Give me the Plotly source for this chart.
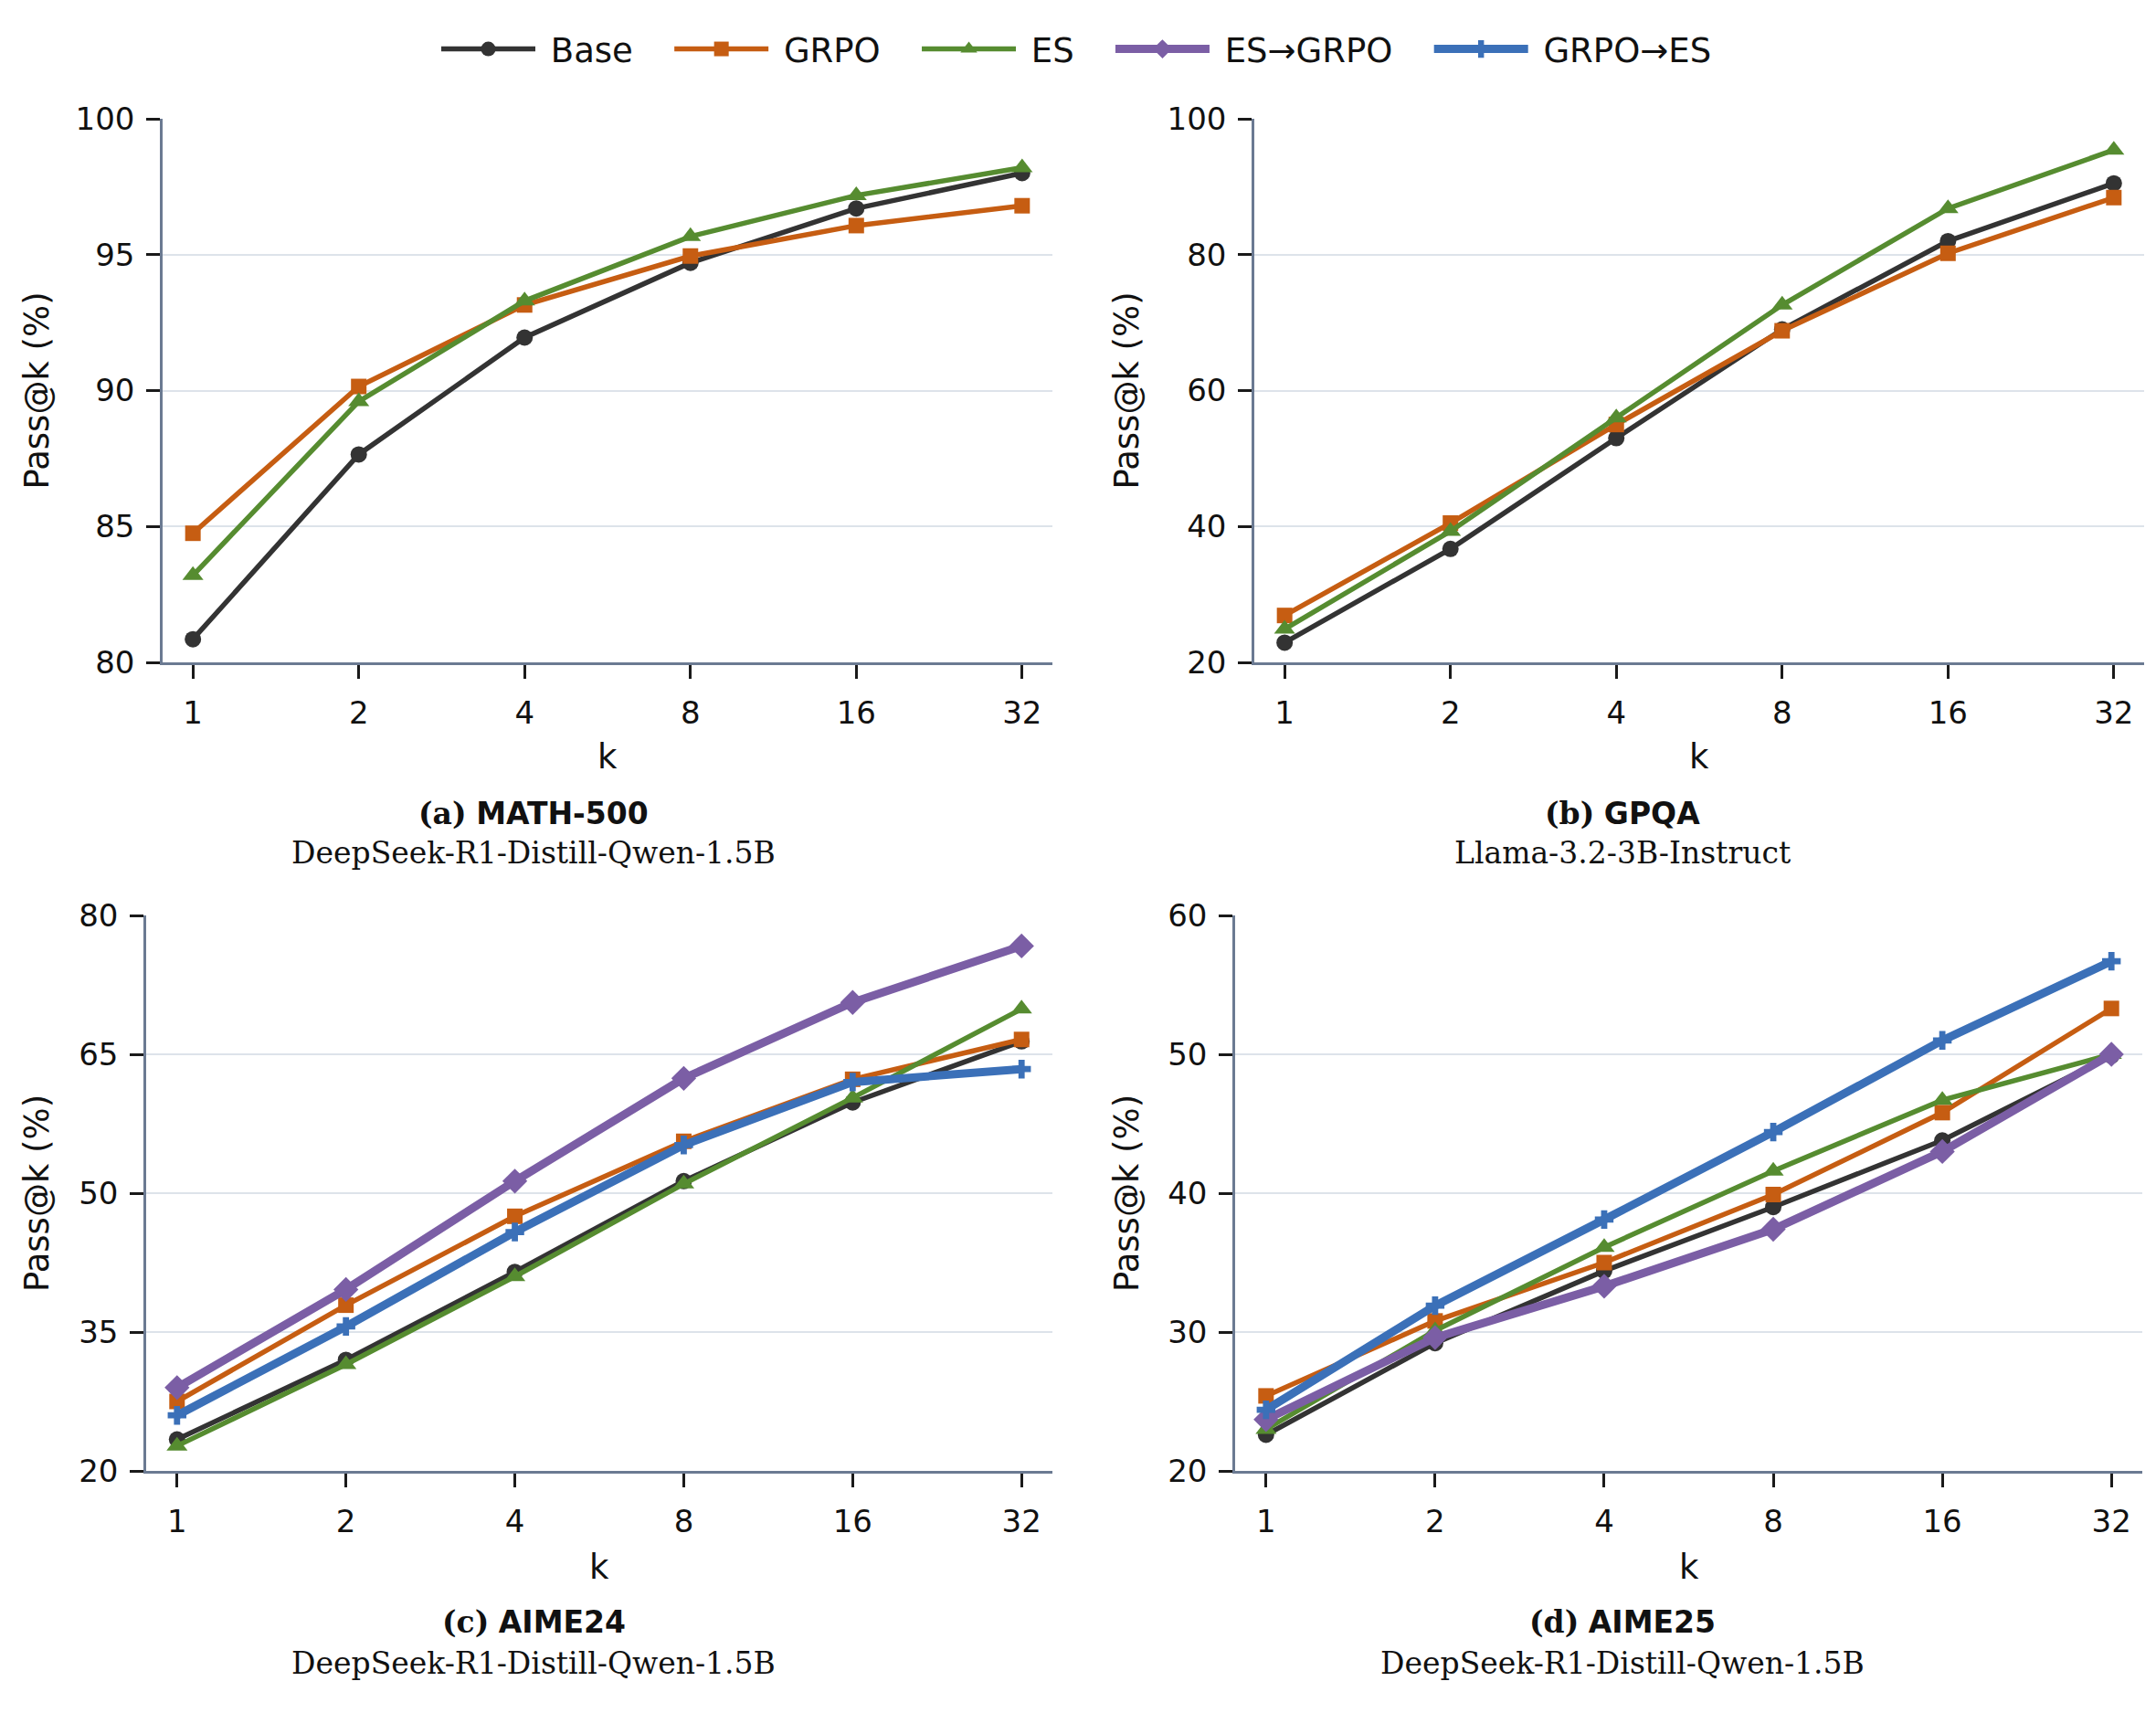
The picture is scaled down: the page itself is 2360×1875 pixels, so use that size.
import math
import plotly.graph_objects as go

# ---------------- data ----------------
k_values = [1, 2, 4, 8, 16, 32]
k_labels = ["1", "2", "4", "8", "16", "32"]

# (a) MATH-500
math_base = [80.85, 87.65, 91.95, 94.7, 96.7, 98.0]
math_grpo = [84.75, 90.15, 93.15, 94.95, 96.07, 96.8]
math_es = [83.2, 89.6, 93.3, 95.67, 97.18, 98.2]

# (b) GPQA
gpqa_base = [22.9, 36.7, 53.0, 69.0, 82.0, 90.5]
gpqa_grpo = [26.9, 40.5, 55.0, 68.8, 80.2, 88.4]
gpqa_es = [24.9, 39.3, 56.0, 72.6, 86.8, 95.4]

# (c) AIME24
aime24_base = [23.4, 32.0, 41.5, 51.3, 59.8, 66.4]
aime24_grpo = [27.5, 37.9, 47.5, 55.6, 62.3, 66.6]
aime24_es = [22.7, 31.5, 41.0, 51.0, 60.3, 69.9]
aime24_es_grpo = [29.0, 39.6, 51.3, 62.4, 70.6, 76.7]
aime24_grpo_es = [26.0, 35.6, 45.8, 55.2, 62.0, 63.4]

# (d) AIME25
aime25_base = [22.6, 29.2, 34.4, 39.0, 43.8, 49.9]
aime25_grpo = [25.4, 30.8, 35.0, 39.9, 45.8, 53.3]
aime25_es = [23.0, 30.1, 36.1, 41.6, 46.7, 50.0]
aime25_es_grpo = [23.7, 29.6, 33.3, 37.4, 43.0, 50.0]
aime25_grpo_es = [24.4, 31.9, 38.1, 44.4, 51.0, 56.7]

series_names = ["Base", "GRPO", "ES", "ES→GRPO", "GRPO→ES"]

panel_titles = ["MATH-500", "GPQA", "AIME24", "AIME25"]
panel_letters = ["(a)", "(b)", "(c)", "(d)"]
panel_models = ["DeepSeek-R1-Distill-Qwen-1.5B", "Llama-3.2-3B-Instruct",
                "DeepSeek-R1-Distill-Qwen-1.5B", "DeepSeek-R1-Distill-Qwen-1.5B"]

y_ranges = [[80, 100], [20, 100], [20, 80], [20, 60]]
y_ticks = [[80, 85, 90, 95, 100], [20, 40, 60, 80, 100],
           [20, 35, 50, 65, 80], [20, 30, 40, 50, 60]]

panel_data = [
    [math_base, math_grpo, math_es, None, None],
    [gpqa_base, gpqa_grpo, gpqa_es, None, None],
    [aime24_base, aime24_grpo, aime24_es, aime24_es_grpo, aime24_grpo_es],
    [aime25_base, aime25_grpo, aime25_es, aime25_es_grpo, aime25_grpo_es],
]

# ---------------- styles ----------------
W, H = 2360, 1875
colors = ["#333333", "#c65d12", "#568c30", "#7b5ea5", "#3b70b8"]
symbols = ["circle", "square", "triangle-up", "diamond", "cross"]
msizes = [18, 17, 20, 21, 17]
lwidths = [5.5, 5.5, 5.5, 9, 9]

# panel pixel boxes: (x0, x1, ytop, ybottom)
boxes = [(178, 1152, 130, 725), (1373, 2347, 130, 725),
         (160, 1152, 1002, 1610), (1352, 2345, 1002, 1610)]

SANS = "DejaVu Sans"
SERIF = "DejaVu Serif"
NB = "\u00a0"

fig = go.Figure()
shown = set()
for p in range(4):
    ax = "" if p == 0 else str(p + 1)
    for s in range(5):
        vals = panel_data[p][s]
        if vals is None:
            continue
        fig.add_trace(go.Scatter(
            x=k_values, y=vals, mode="lines+markers",
            name=NB + series_names[s] + NB * 3,
            line=dict(color=colors[s], width=lwidths[s]),
            marker=dict(symbol=symbols[s], size=msizes[s], color=colors[s],
                        line=dict(width=0)),
            xaxis="x" + ax, yaxis="y" + ax,
            legendgroup=series_names[s],
            showlegend=series_names[s] not in shown,
            legendrank=s + 1,
        ))
        shown.add(series_names[s])

layout = dict(
    width=W, height=H,
    margin=dict(l=0, r=0, t=0, b=0, autoexpand=False),
    paper_bgcolor="white", plot_bgcolor="white",
    font=dict(family=SANS, size=34, color="#111111"),
    showlegend=True,
    legend=dict(orientation="h", x=478 / W, xanchor="left",
                y=1 - 54 / H, yanchor="middle",
                font=dict(family=SANS, size=37, color="#111111"),
                itemwidth=103, traceorder="normal",
                bgcolor="rgba(0,0,0,0)"),
)

annotations = []
xr = [math.log10(1) - 0.055, math.log10(32) + 0.055]
for p in range(4):
    x0, x1, yt, yb = boxes[p]
    ax = "" if p == 0 else str(p + 1)
    layout["xaxis" + ax] = dict(
        domain=[x0 / W, x1 / W], anchor="y" + ax, type="log", range=xr,
        tickvals=k_values, ticktext=k_labels, showgrid=False, zeroline=False,
        showline=True, linecolor="#6b7a92", linewidth=2.5,
        ticks="outside", ticklen=15, tickwidth=3, tickcolor="#1a1a1a",
        tickfont=dict(family=SANS, size=34, color="#111111"),
        ticklabelstandoff=8,
    )
    layout["yaxis" + ax] = dict(
        domain=[1 - yb / H, 1 - yt / H], anchor="x" + ax, range=y_ranges[p],
        tickvals=y_ticks[p], showgrid=True, gridcolor="#dde3ea", gridwidth=2,
        zeroline=False, showline=True, linecolor="#6b7a92", linewidth=2.5,
        ticks="outside", ticklen=15, tickwidth=3, tickcolor="#1a1a1a",
        tickfont=dict(family=SANS, size=34, color="#111111"),
        ticklabelstandoff=6,
    )
    cx = (x0 + x1) / 2
    cy = (yt + yb) / 2
    top_row = p < 2
    ylab_x = 40 if p % 2 == 0 else 1233
    annotations.append(dict(
        text="Pass@k (%)", x=ylab_x / W, y=1 - cy / H, xref="paper", yref="paper",
        textangle=-90, showarrow=False, xanchor="center", yanchor="middle",
        font=dict(family=SANS, size=37, color="#111111")))
    k_y = 829 if top_row else 1715
    annotations.append(dict(
        text="k", x=cx / W, y=1 - k_y / H, xref="paper", yref="paper",
        showarrow=False, xanchor="center", yanchor="middle",
        font=dict(family=SANS, size=37, color="#111111")))
    cap_x = 584 if p % 2 == 0 else 1776
    cap_y = 890 if top_row else 1775
    sub_y = 933 if top_row else 1820
    annotations.append(dict(
        text='<span style="font-family:DejaVu Serif"><b>' + panel_letters[p] +
             '</b></span> <b>' + panel_titles[p] + '</b>',
        x=cap_x / W, y=1 - cap_y / H, xref="paper", yref="paper",
        showarrow=False, xanchor="center", yanchor="middle",
        font=dict(family=SANS, size=33, color="#111111")))
    annotations.append(dict(
        text=panel_models[p], x=cap_x / W, y=1 - sub_y / H,
        xref="paper", yref="paper", showarrow=False,
        xanchor="center", yanchor="middle",
        font=dict(family=SERIF, size=33, color="#111111")))

layout["annotations"] = annotations
fig.update_layout(**layout)
fig.write_html("out.html",
               config={"displayModeBar": False},
               post_script="document.body.style.margin='0px';")
